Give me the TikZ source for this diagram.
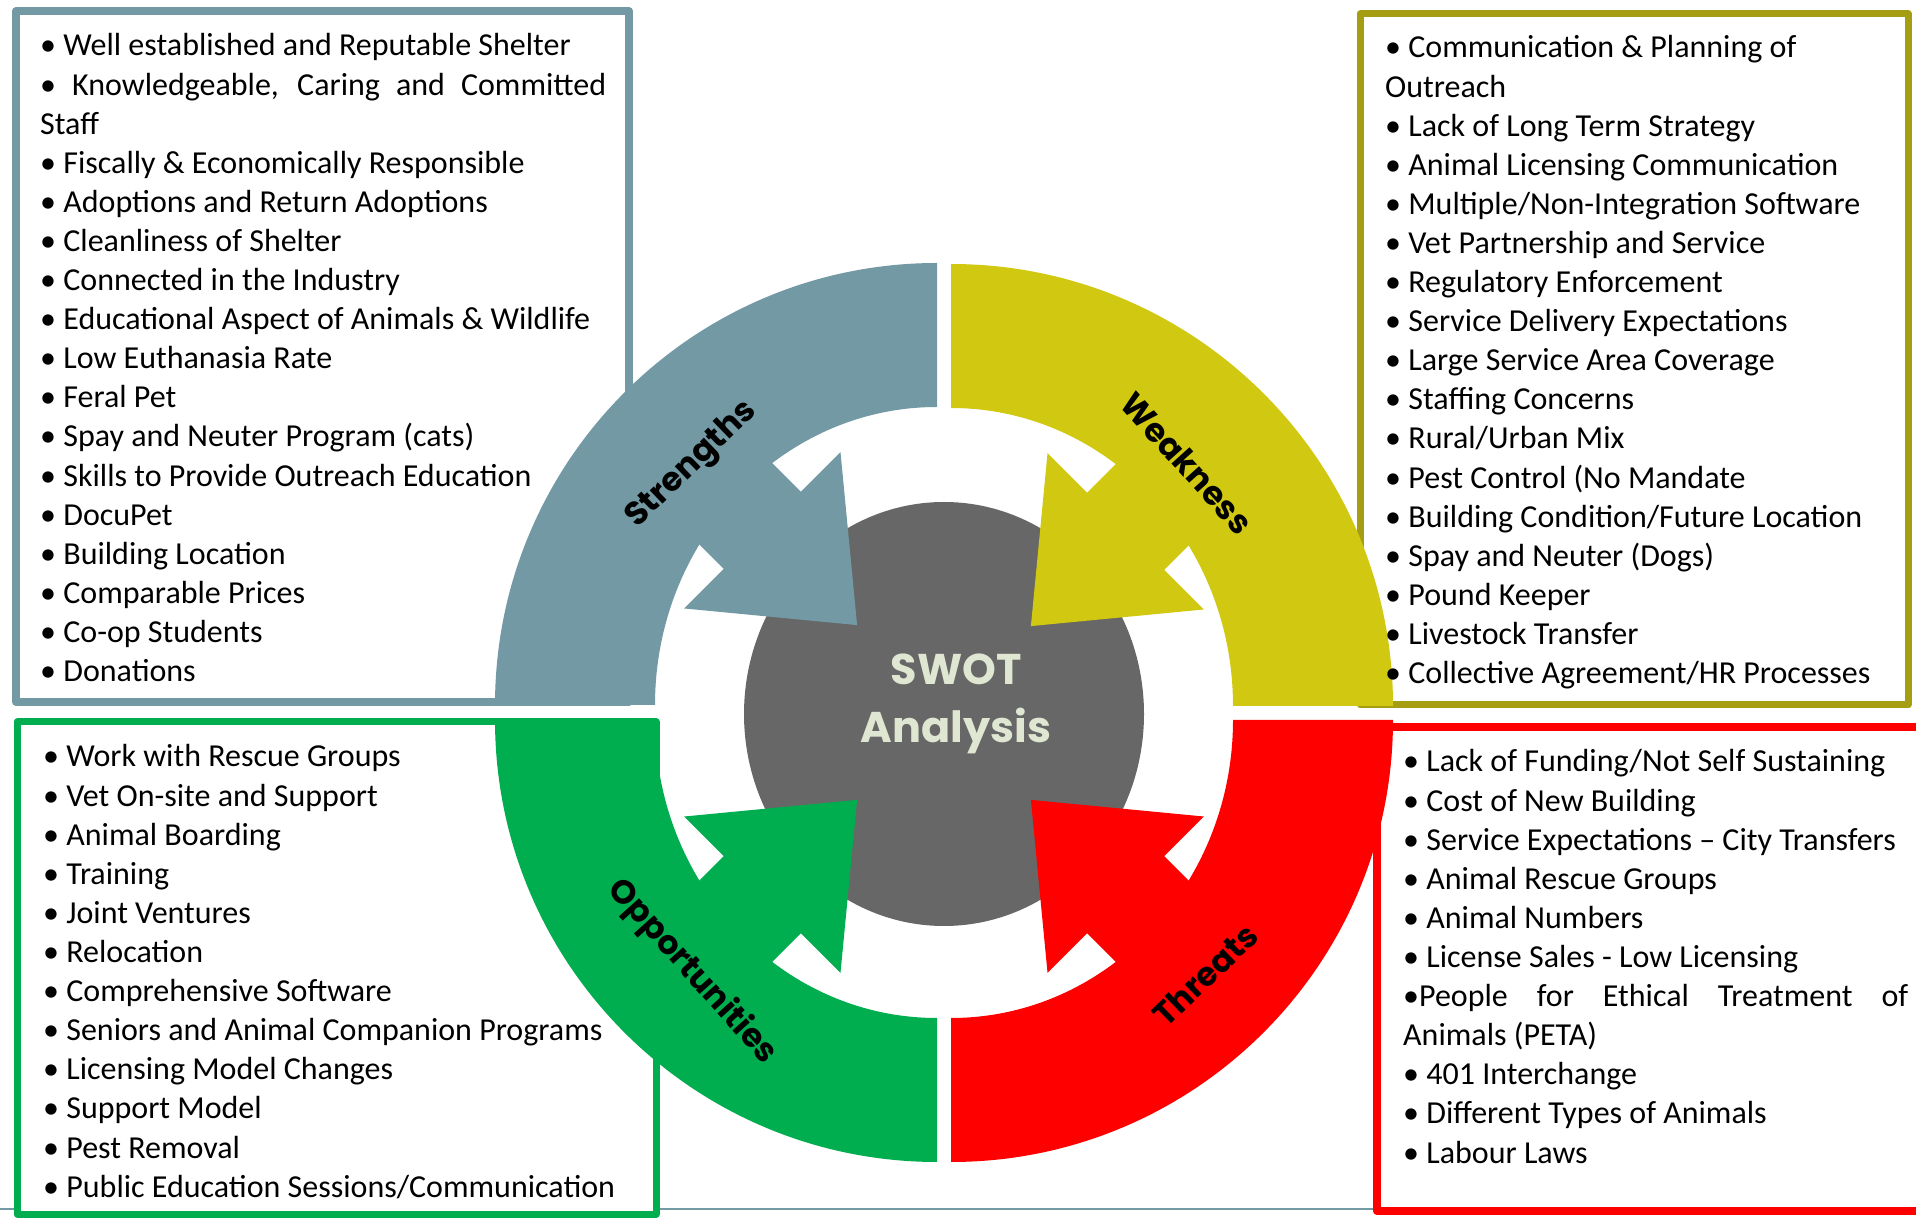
\documentclass[tikz,border=0pt]{standalone}
\usepackage{fontspec}
\setmainfont{Carlito}
\newfontfamily\labelfont{Poppins}
\definecolor{swotteal}{HTML}{7399A4}
\definecolor{swotyellow}{HTML}{D1C811}
\definecolor{swotolive}{HTML}{A69E12}
\definecolor{swotgreen}{HTML}{00AE50}
\definecolor{swotred}{HTML}{FF0000}
\definecolor{swotgray}{HTML}{676767}
\definecolor{swotpale}{HTML}{DFE6D1}

% one coloured quadrant: ring segment plus a block arrow aimed at the centre
% #1 quadrant centre, #2 arrow axis angle, #3 colour, #4 ring segment path
\newcommand\swotquad[4]{%
  \begin{scope}[shift={#1}]
    \fill[#3] #4;
    \begin{scope}[rotate=#2]
      \fill[#3] (240,-54.5) rectangle (320,54.5);
      \fill[#3] (113,0) -- (247,110.5) -- (247,-110.5) -- cycle;
    \end{scope}
  \end{scope}}

\begin{document}
\begin{tikzpicture}[x=1pt,y=1pt,
  item/.style={anchor=base west, inner sep=0pt, font=\fontsize{32}{39}\selectfont},
  listbox/.style={fill=white, line join=round},
  arclabel/.style={inner sep=0pt, font=\labelfont\bfseries\fontsize{33}{40}\selectfont},
  coretext/.style={anchor=base, inner sep=0pt, text=swotpale,
                   font=\labelfont\bfseries\fontsize{43}{50}\selectfont}]
\useasboundingbox (0,0) rectangle (1916,1218);
\clip (0,0) rectangle (1916,1218);
\fill[white] (0,0) rectangle (1916,1218);

% rule along the foot of the slide
\draw[swotteal, line width=2.5] (0,9) -- (1916,9);

% the four list boxes
\draw[listbox, draw=swotteal,  line width=8] (16,1207) rectangle (629,516);
\draw[listbox, draw=swotolive, line width=7] (1360,1204) rectangle (1908,513);
\draw[listbox, draw=swotgreen, line width=7] (17,496) rectangle (656,4);
\draw[listbox, draw=swotred,   line width=8] (1377,491) rectangle (1940,7);

% centre disc
\fill[swotgray] (944,504) ellipse[x radius=200, y radius=212];

% quadrants
\swotquad{(937,513)}{135}{swotteal}{(0,442) arc[start angle=90,end angle=180,radius=442] -- (-282,0) arc[start angle=180,end angle=90,x radius=282,y radius=298] -- cycle}
\swotquad{(951,512)}{45}{swotyellow}{(0,442) arc[start angle=90,end angle=0,radius=442] -- (282,0) arc[start angle=0,end angle=90,x radius=282,y radius=298] -- cycle}
\swotquad{(937,498)}{225}{swotgreen}{(-442,0) arc[start angle=180,end angle=270,radius=442] -- (0,-298) arc[start angle=270,end angle=180,x radius=282,y radius=298] -- cycle}
\swotquad{(951,498)}{315}{swotred}{(442,0) arc[start angle=0,end angle=-90,radius=442] -- (0,-298) arc[start angle=-90,end angle=0,x radius=282,y radius=298] -- cycle}

% quadrant titles
\node[arclabel, rotate=44]  (lblS) at (692,753)  {Strengths};
\node[arclabel, rotate=-48] (lblW) at (1187,755) {Weakness};
\node[arclabel, rotate=-48] (lblO) at (692,246)  {Opportunities};
\node[arclabel, rotate=44]  (lblT) at (1205,243) {Threats};

% centre title
\node[coretext] (swotA) at (956,533) {SWOT};
\node[coretext] (swotB) at (956,475) {Analysis};

% Strengths
\foreach \t [count=\i] in {%
  {• Well established and Reputable Shelter},
  {\makebox[566pt][s]{• Knowledgeable, Caring and Committed}},
  {Staff},
  {• Fiscally \& Economically Responsible},
  {• Adoptions and Return Adoptions},
  {• Cleanliness of Shelter},
  {• Connected in the Industry},
  {• Educational Aspect of Animals \& Wildlife},
  {• Low Euthanasia Rate},
  {• Feral Pet},
  {• Spay and Neuter Program (cats)},
  {• Skills to Provide Outreach Education},
  {• DocuPet},
  {• Building Location},
  {• Comparable Prices},
  {• Co-op Students},
  {• Donations}}
  \node[item] (s\i) at (40,{1162-(\i-1)*39.1}) {\t};

% Weakness
\foreach \t [count=\i] in {%
  {• Communication \& Planning of},
  {Outreach},
  {• Lack of Long Term Strategy},
  {• Animal Licensing Communication},
  {• Multiple/Non-Integration Software},
  {• Vet Partnership and Service},
  {• Regulatory Enforcement},
  {• Service Delivery Expectations},
  {• Large Service Area Coverage},
  {• Staffing Concerns},
  {• Rural/Urban Mix},
  {• Pest Control (No Mandate},
  {• Building Condition/Future Location},
  {• Spay and Neuter (Dogs)},
  {• Pound Keeper},
  {• Livestock Transfer},
  {• Collective Agreement/HR Processes}}
  \node[item] (w\i) at (1385,{1160-(\i-1)*39.1}) {\t};

% Opportunities
\foreach \t [count=\i] in {%
  {• Work with Rescue Groups},
  {• Vet On-site and Support},
  {• Animal Boarding},
  {• Training},
  {• Joint Ventures},
  {• Relocation},
  {• Comprehensive Software},
  {• Seniors and Animal Companion Programs},
  {• Licensing Model Changes},
  {• Support Model},
  {• Pest Removal},
  {• Public Education Sessions/Communication}}
  \node[item] (o\i) at (43,{451-(\i-1)*39.1}) {\t};

% Threats
\foreach \t [count=\i] in {%
  {• Lack of Funding/Not Self Sustaining},
  {• Cost of New Building},
  {• Service Expectations – City Transfers},
  {• Animal Rescue Groups},
  {• Animal Numbers},
  {• License Sales - Low Licensing},
  {\makebox[505pt][s]{•People for Ethical Treatment of}},
  {Animals (PETA)},
  {• 401 Interchange},
  {• Different Types of Animals},
  {• Labour Laws}}
  \node[item] (t\i) at (1403,{446-(\i-1)*39.1}) {\t};
\end{tikzpicture}
\end{document}
